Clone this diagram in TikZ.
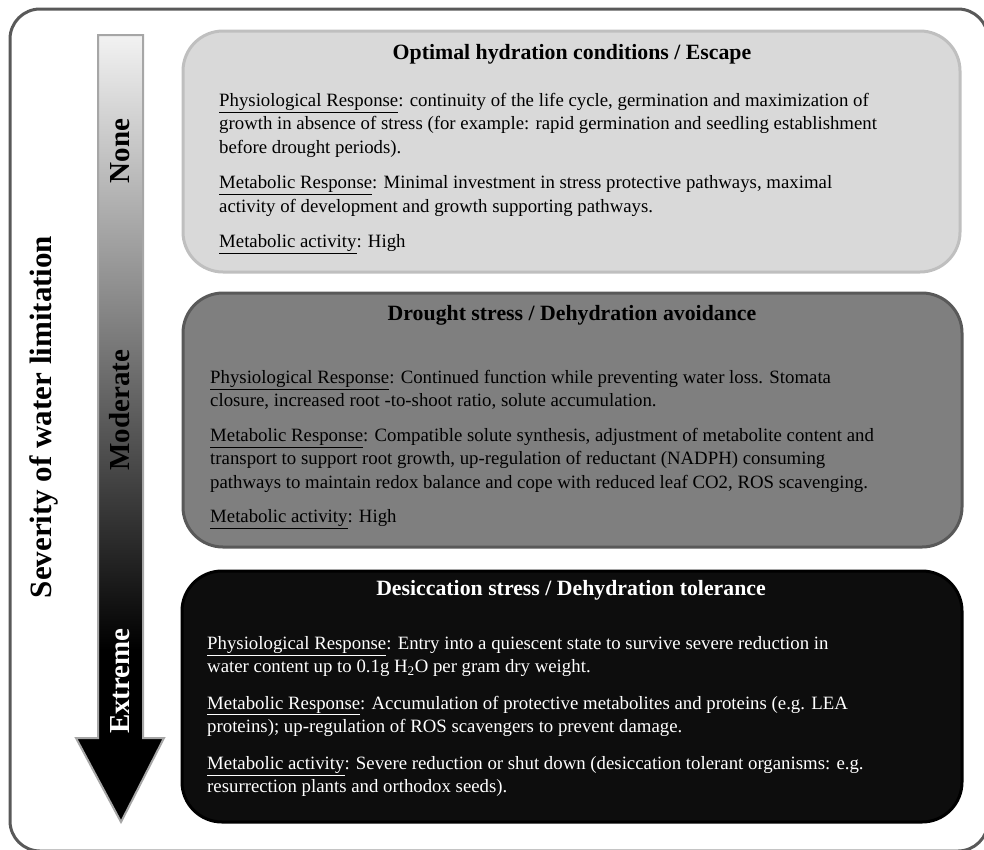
\documentclass[tikz,border=0pt]{standalone}
\usepackage{fontspec}
\setmainfont{Liberation Serif}
\usetikzlibrary{positioning}
\definecolor{framegrey}{RGB}{89,89,89}
\definecolor{lightfill}{RGB}{217,217,217}
\definecolor{lightedge}{RGB}{191,191,191}
\definecolor{midfill}{RGB}{127,127,127}
\definecolor{midedge}{RGB}{89,89,89}
\definecolor{darkfill}{RGB}{13,13,13}
\definecolor{arrowedge}{RGB}{166,166,166}

\begin{document}
\begin{tikzpicture}[x=1pt, y=-1pt,
    stage/.style={rectangle, rounded corners=40pt, line width=3pt, minimum width=779pt, minimum height=250pt},
    stagetitle/.style={anchor=base, inner sep=0pt, font=\fontsize{21.8}{25}\selectfont\bfseries},
    stagetext/.style={anchor=north west, inner sep=0pt, align=left, font=\fontsize{18.8}{23.5}\selectfont},
    levellabel/.style={rotate=90, inner sep=0pt, font=\fontsize{29}{32}\selectfont\bfseries}
]
\useasboundingbox (0,0) rectangle (984,849);
\draw[line width=3pt, framegrey, rounded corners=30pt] (10,9) rectangle (988,851);

\fill[black] (98,35) -- (143,35) -- (143,738) -- (164,738) -- (121,822) -- (76,738) -- (98,738) -- cycle;
\shade[top color=black!5, middle color=black!50, bottom color=black] (98,35) rectangle (143,650);
\draw[arrowedge, line width=2pt] (98,35) -- (143,35) -- (143,738) -- (164,738) -- (121,822) -- (76,738) -- (98,738) -- cycle;

\node[levellabel] (none) at (120,151) {None};
\node[levellabel, text=black] (moderate) at (120,410) {Moderate};
\node[levellabel, text=white] (extreme) at (120,681) {Extreme};
\node[levellabel, font=\fontsize{31}{34}\selectfont\bfseries] (severity) at (44,417) {Severity of water limitation};

\node[stage, fill=lightfill, draw=lightedge, minimum width=777pt, minimum height=241pt] (escape) at (571.5,151.5) {};
\node[stage, fill=midfill, draw=midedge, minimum height=254pt] (avoid) at (572.5,420) {};
\node[stage, fill=darkfill, draw=black, minimum width=780pt, minimum height=251pt] (tolerate) at (572,696.5) {};

\node[stagetitle] (escapetitle) at (572,59) {Optimal hydration conditions / Escape};
\node[stagetext] (escapetext) at (219,93) {\underline{Physiological Response}: continuity of the life cycle, germination and maximization of\\
growth in absence of stress (for example: rapid germination and seedling establishment\\
before drought periods).\\[12pt]
\underline{Metabolic Response}: Minimal investment in stress protective pathways, maximal\\
activity of development and growth supporting pathways.\\[12pt]
\underline{Metabolic activity}: High};

\node[stagetitle] (avoidtitle) at (572,320) {Drought stress / Dehydration avoidance};
\node[stagetext] (avoidtext) at (210,370) {\underline{Physiological Response}: Continued function while preventing water loss. Stomata\\
closure, increased root -to-shoot ratio, solute accumulation.\\[11pt]
\underline{Metabolic Response}: Compatible solute synthesis, adjustment of metabolite content and\\
transport to support root growth, up-regulation of reductant (NADPH) consuming\\
pathways to maintain redox balance and cope with reduced leaf CO2, ROS scavenging.\\[11pt]
\underline{Metabolic activity}: High};

\node[stagetitle, text=white] (tolerotitle) at (571,595) {Desiccation stress / Dehydration tolerance};
\node[stagetext, text=white] (tolerotext) at (207,636) {\underline{Physiological Response}: Entry into a quiescent state to survive severe  reduction in\\
water content up to 0.1g H\textsubscript{2}O per gram dry weight.\\[13pt]
\underline{Metabolic Response}: Accumulation of protective metabolites and proteins (e.g. LEA\\
proteins); up-regulation of ROS scavengers to prevent damage.\\[13pt]
\underline{Metabolic activity}: Severe reduction or shut down (desiccation tolerant organisms: e.g.\\
resurrection plants and orthodox seeds).};
\end{tikzpicture}
\end{document}
